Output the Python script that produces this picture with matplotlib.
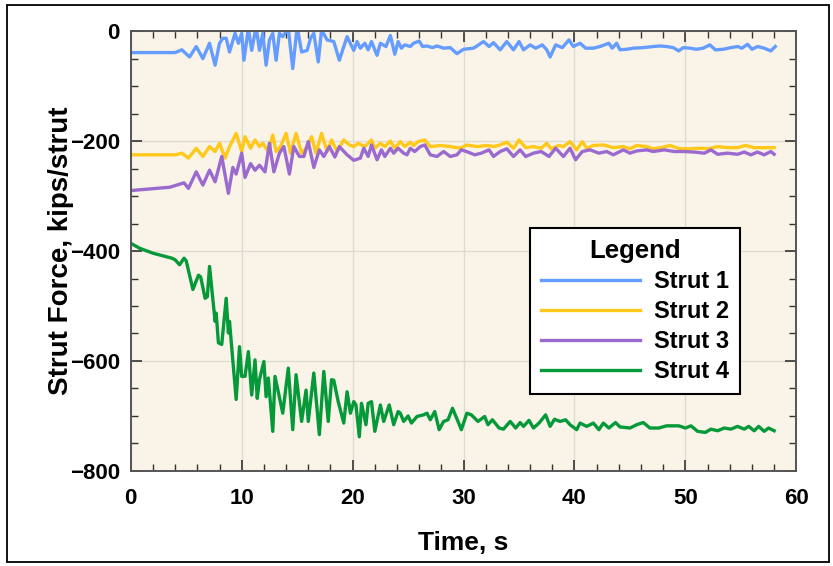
##################################################################
# IMPORTS
##################################################################
import matplotlib
matplotlib.use('Agg')
import matplotlib.pyplot as plt
from matplotlib.patches import Rectangle
from matplotlib.ticker import MultipleLocator

##################################################################
# DATA  (time s, strut force kips/strut)
##################################################################
strut1 = [(0, -39), (4.0, -39), (4.6, -34), (5.3, -47), (5.9, -28), (6.5, -50), (7.1, -22),
          (7.6, -62), (8.0, -22), (8.3, -13), (8.6, -13), (8.9, -38), (9.4, -4), (9.7, -22),
          (10.0, -4), (10.2, -53), (10.6, 5), (10.9, -35), (11.3, 8), (11.6, -35), (11.9, -4),
          (12.2, -62), (12.5, -16), (12.8, -4), (13.1, -53), (13.4, -4), (13.7, -10), (14.2, 5),
          (14.6, -68), (15.0, 8), (15.4, -38), (15.9, -35), (16.2, -13), (16.5, -4), (16.9, -56),
          (17.2, 2), (17.7, -16), (18.3, -19), (18.8, -53), (19.5, -10), (20.1, -35), (20.4, -19),
          (20.7, -31), (21.1, -22), (21.4, -34), (21.7, -19), (22.2, -44), (22.5, -22), (23.0, -28),
          (23.4, -8), (23.8, -42), (24.1, -19), (24.4, -31), (24.7, -25), (25.2, -28), (25.5, -22),
          (26.0, -18), (26.3, -28), (26.7, -27), (27.2, -30), (27.6, -27), (28.2, -31), (28.8, -30),
          (29.4, -41), (30.0, -33), (30.9, -31), (31.8, -19), (32.3, -28), (32.7, -21), (33.3, -34),
          (33.9, -19), (34.5, -34), (35.0, -19), (35.4, -34), (36.0, -25), (36.5, -31), (37.1, -25),
          (37.5, -34), (37.8, -47), (38.3, -25), (38.9, -30), (39.5, -16), (39.9, -28), (40.5, -22),
          (41.0, -31), (41.7, -31), (42.3, -28), (43.1, -22), (43.4, -31), (43.8, -22), (44.1, -34),
          (44.7, -33), (45.3, -31), (46.2, -30), (47.1, -28), (47.7, -27), (48.3, -28), (48.9, -30),
          (49.4, -36), (49.8, -30), (50.4, -31), (51.0, -33), (51.6, -31), (52.2, -25), (52.7, -34),
          (53.4, -33), (54.1, -30), (54.7, -28), (55.1, -31), (55.6, -24), (56.0, -33), (56.5, -28),
          (57.1, -31), (57.7, -36), (58.1, -28)]

strut2 = [(0, -225), (4.0, -225), (4.6, -222), (5.2, -231), (5.9, -213), (6.5, -228), (7.1, -210),
          (7.6, -219), (8.0, -204), (8.5, -231), (8.9, -210), (9.5, -186), (10.0, -219), (10.3, -192),
          (10.8, -213), (11.2, -198), (11.6, -210), (11.9, -204), (12.4, -219), (12.8, -189),
          (13.1, -219), (13.5, -210), (14.0, -186), (14.4, -222), (14.9, -186), (15.4, -222),
          (15.8, -213), (16.3, -192), (16.7, -222), (17.2, -186), (17.7, -219), (18.1, -198),
          (18.6, -219), (19.2, -198), (19.7, -207), (20.1, -210), (20.5, -204), (21.1, -210),
          (21.7, -198), (22.0, -213), (22.5, -204), (22.9, -210), (23.4, -200), (23.8, -213),
          (24.3, -201), (24.7, -210), (25.2, -202), (25.5, -208), (25.9, -201), (26.5, -198),
          (27.0, -210), (27.9, -208), (28.8, -210), (29.7, -213), (30.3, -207), (31.2, -210),
          (32.1, -208), (32.7, -210), (33.3, -207), (33.9, -202), (34.5, -213), (35.0, -198),
          (35.6, -212), (36.3, -210), (37.0, -213), (37.5, -204), (37.9, -214), (38.6, -208),
          (39.0, -210), (39.6, -201), (40.2, -216), (40.7, -201), (41.1, -213), (41.7, -208),
          (42.6, -207), (43.5, -212), (44.4, -210), (45.0, -214), (45.6, -208), (46.5, -210),
          (47.1, -214), (47.8, -212), (48.6, -208), (49.5, -214), (50.5, -214), (51.4, -213),
          (52.1, -214), (52.9, -210), (53.8, -212), (54.7, -212), (55.4, -208), (56.2, -212),
          (57.1, -212), (58.0, -212)]

strut3 = [(0, -290), (3.5, -284), (4.8, -276), (5.2, -286), (5.9, -256), (6.5, -280), (7.1, -253),
          (7.6, -274), (8.2, -228), (8.8, -295), (9.2, -248), (9.5, -260), (10.0, -222), (10.3, -266),
          (10.8, -241), (11.2, -253), (11.6, -244), (12.1, -256), (12.5, -204), (12.9, -256),
          (13.4, -222), (13.8, -210), (14.3, -260), (14.7, -210), (15.2, -228), (15.6, -228),
          (16.0, -201), (16.5, -248), (17.0, -216), (17.4, -228), (17.9, -210), (18.4, -229),
          (18.8, -210), (19.5, -225), (20.1, -235), (20.7, -231), (21.0, -213), (21.4, -228),
          (21.7, -207), (22.2, -234), (22.6, -216), (22.9, -228), (23.4, -213), (23.7, -222),
          (24.1, -213), (24.6, -222), (24.9, -225), (25.2, -213), (25.6, -219), (26.1, -210),
          (26.5, -207), (27.0, -225), (27.6, -228), (28.2, -219), (28.8, -228), (29.4, -225),
          (29.8, -216), (30.4, -220), (31.0, -225), (31.6, -222), (32.3, -216), (32.7, -228),
          (33.3, -219), (33.9, -214), (34.5, -228), (35.1, -216), (35.6, -228), (36.3, -222),
          (37.0, -219), (37.7, -228), (38.3, -213), (39.0, -228), (39.6, -213), (40.1, -234),
          (40.7, -219), (41.4, -216), (42.2, -222), (42.9, -219), (43.5, -225), (44.4, -216),
          (45.0, -222), (45.6, -218), (46.5, -216), (47.1, -219), (48.1, -216), (49.0, -219),
          (49.9, -219), (50.8, -220), (51.7, -222), (52.3, -216), (52.9, -224), (53.8, -222),
          (54.7, -224), (55.3, -220), (55.9, -225), (56.5, -220), (57.1, -225), (57.7, -219),
          (58.0, -224)]

strut4 = [(0, -386), (0.8, -395), (2.0, -404), (3.7, -413), (4.0, -416), (4.4, -425), (4.8, -413),
          (5.0, -418), (5.6, -470), (6.1, -444), (6.3, -447), (6.7, -486), (6.9, -483), (7.1, -428),
          (7.6, -528), (7.7, -513), (7.9, -567), (8.2, -570), (8.6, -486), (8.8, -549), (8.9, -528),
          (9.5, -670), (9.8, -574), (10.0, -628), (10.3, -628), (10.6, -583), (10.9, -662),
          (11.2, -598), (11.4, -668), (11.6, -634), (12.0, -601), (12.2, -665), (12.4, -631),
          (12.8, -728), (13.0, -628), (13.7, -695), (14.2, -613), (14.6, -725), (14.9, -625),
          (15.4, -710), (15.8, -653), (16.0, -710), (16.5, -622), (17.0, -734), (17.4, -619),
          (17.8, -710), (18.1, -634), (18.3, -635), (18.7, -674), (19.2, -713), (19.5, -656),
          (19.8, -695), (20.1, -674), (20.3, -680), (20.6, -738), (20.8, -677), (21.2, -716),
          (21.4, -677), (21.7, -674), (22.0, -728), (22.5, -680), (22.8, -710), (23.3, -680),
          (23.7, -716), (24.1, -692), (24.3, -695), (24.6, -710), (25.0, -700), (25.3, -713),
          (25.8, -701), (26.4, -698), (26.7, -695), (27.0, -707), (27.4, -692), (27.8, -725),
          (28.2, -710), (28.6, -707), (29.0, -686), (29.5, -710), (29.8, -725), (30.3, -695),
          (30.7, -698), (31.3, -710), (31.9, -701), (32.2, -716), (32.6, -707), (33.2, -722),
          (33.6, -724), (34.2, -710), (34.7, -722), (35.1, -712), (35.4, -719), (35.9, -708),
          (36.3, -722), (36.8, -713), (37.4, -698), (37.8, -719), (38.2, -706), (38.7, -710),
          (39.2, -707), (39.6, -716), (40.2, -725), (40.5, -713), (41.1, -719), (41.7, -713),
          (42.2, -725), (42.6, -713), (43.1, -722), (43.7, -712), (44.1, -720), (45.0, -722),
          (45.6, -716), (46.2, -712), (46.8, -722), (47.6, -722), (48.3, -718), (49.4, -718),
          (50.0, -722), (50.5, -718), (51.1, -728), (51.8, -730), (52.3, -724), (52.9, -727),
          (53.5, -722), (54.1, -724), (54.7, -719), (55.3, -724), (55.7, -719), (56.2, -727),
          (56.6, -719), (57.1, -728), (57.5, -722), (58.0, -727)]

labels = ['Strut 1', 'Strut 2', 'Strut 3', 'Strut 4']
colors = ['#659CFF', '#FFC81A', '#9A6ACF', '#05993A']

##################################################################
# STYLE
##################################################################
plt.rcParams['font.family'] = ['Liberation Sans', 'DejaVu Sans']
plt.rcParams['font.weight'] = 'bold'

fig = plt.figure(figsize=(8.33, 5.66), dpi=100)
ax = fig.add_axes([0.157, 0.168, 0.799, 0.777])
ax.set_facecolor('#FAF4E8')

##################################################################
# PLOT
##################################################################
for series, lab, col in zip([strut1, strut2, strut3, strut4], labels, colors):
    ts = [p[0] for p in series]
    vs = [p[1] for p in series]
    ax.plot(ts, vs, color=col, lw=2.4, label=lab, solid_joinstyle='round')

ax.set_xlim(0, 60)
ax.set_ylim(-800, 0)
ax.xaxis.set_major_locator(MultipleLocator(10))
ax.xaxis.set_minor_locator(MultipleLocator(2))
ax.yaxis.set_major_locator(MultipleLocator(200))
ax.yaxis.set_minor_locator(MultipleLocator(50))
ax.grid(True, which='major', color='#DEDBD0', lw=1.0)
ax.set_axisbelow(True)

ax.tick_params(which='both', direction='in', top=True, right=True, color='#333333')
ax.tick_params(which='major', length=8, width=1.2, labelsize=16)
ax.tick_params(which='minor', length=5, width=1.0)
ax.tick_params(axis='x', pad=12)
ax.tick_params(axis='y', pad=8)
for sp in ax.spines.values():
    sp.set_color('#555555')
    sp.set_linewidth(1.4)

ax.set_xlabel('Time, s', fontsize=19, fontweight='bold')
ax.set_ylabel('Strut Force, kips/strut', fontsize=20, fontweight='bold')
ax.xaxis.set_label_coords(0.5, -0.137)
ax.yaxis.set_label_coords(-0.086, 0.5)

leg = ax.legend(loc='upper left', bbox_to_anchor=(0.6, 0.552), borderaxespad=0,
                title='Legend', fontsize=17, title_fontsize=18.5, handlelength=4.2,
                fancybox=False, framealpha=1, edgecolor='black', borderpad=0.45,
                labelspacing=0.3, handletextpad=0.6)
leg.get_frame().set_linewidth(1.5)
leg.get_title().set_fontweight('bold')

# frame round the whole picture
fig.patches.append(Rectangle((0.009, 0.007), 0.986, 0.984, transform=fig.transFigure,
                             fill=False, edgecolor='black', lw=1.3))

fig.savefig('out.png', dpi=100)
